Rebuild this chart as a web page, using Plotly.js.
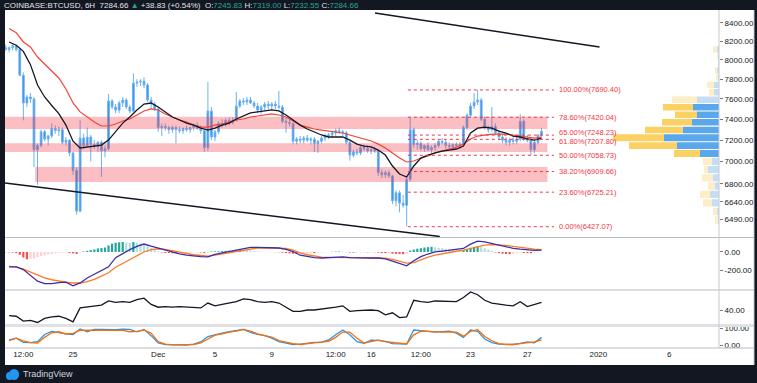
<!DOCTYPE html>
<html><head><meta charset="utf-8">
<script src="https://cdn.plot.ly/plotly-3.0.1.min.js"></script>
<style>html,body{margin:0;padding:0;background:#131722;overflow:hidden}#chart{width:757px;height:383px}</style>
</head><body><div id="chart"></div>
<script>
// ---------- DATA ----------
const symbol = 'COINBASE:BTCUSD, 6H';
const candleStartUTC = Date.UTC(2019, 10, 20, 6);   // first 6H candle
const candleStepHours = 6;
const open = [8130,8110,8130,8150,8110,7840,7560,7620,7600,7110, 7150,7280,7210,7240,7310,7290,7300,7180,7200,7080,
 6920,6560,7220,7150,7230,7160,7140,7180,7100,7120, 7580,7520,7490,7560,7590,7520,7480,7760,7770,7780,
 7740,7590,7550,7500,7320,7330,7320,7300,7320,7300, 7290,7310,7300,7320,7340,7310,7290,7130,7480,7230,
 7280,7360,7350,7390,7370,7390,7530,7580,7570,7590, 7560,7530,7490,7520,7550,7530,7550,7530,7520,7380,
 7370,7360,7190,7210,7200,7220,7200,7210,7170,7190, 7220,7240,7250,7270,7290,7280,7270,7180,7060,7090,
 7080,7130,7120,7100,7110,7100,6900,6880,6900,6870, 6650,6720,6630,6610,6840,7300,7160,7170,7120,7150,
 7110,7130,7150,7190,7180,7150,7140,7160,7150,7160, 7320,7440,7530,7570,7590,7400,7320,7300,7330,7270,
 7230,7200,7180,7200,7190,7210,7380,7220,7200,7110, 7180,7245.83];
const high = [8160,8140,8170,8160,8130,7870,7640,7660,7620,7170, 7300,7300,7250,7360,7340,7330,7320,7230,7210,7090,
 6950,7390,7260,7320,7250,7200,7190,7200,7150,7650, 7600,7550,7580,7620,7610,7540,7860,7800,7800,7820,
 7760,7620,7570,7520,7360,7360,7340,7340,7340,7330, 7320,7340,7330,7360,7370,7340,7300,7770,7520,7300,
 7380,7400,7410,7420,7420,7670,7600,7610,7620,7620, 7580,7560,7540,7570,7580,7570,7580,7680,7540,7420,
 7400,7370,7230,7240,7240,7250,7230,7230,7200,7240, 7260,7270,7290,7310,7320,7300,7290,7190,7110,7120,
 7150,7160,7150,7140,7140,7110,6930,6920,6920,6880, 6740,6740,6700,6860,7420,7320,7200,7190,7160,7180,
 7150,7170,7200,7220,7200,7180,7170,7180,7180,7340, 7460,7560,7660,7690,7610,7430,7340,7520,7360,7300,
 7260,7230,7220,7230,7230,7450,7400,7250,7220,7200, 7260,7319.00];
const low = [8100,8080,8100,8090,7830,7390,7520,7560,6950,6790, 7130,7190,7150,7220,7260,7240,7160,7150,7050,6880,
 6530,6550,7120,7140,7000,7120,7090,6860,7040,7100, 7500,7460,7460,7520,7500,7460,7470,7720,7730,7710,
 7570,7500,7480,7280,7240,7290,7260,7270,7170,7270, 7260,7280,7270,7290,7300,7260,7090,7100,7200,7190,
 7260,7320,7330,7340,7350,7380,7510,7540,7540,7550, 7510,7460,7450,7480,7500,7490,7500,7500,7360,7270,
 7330,7160,7160,7170,7170,7180,7160,7090,7080,7170, 7190,7210,7220,7240,7260,7240,7160,7010,7040,7060,
 7060,7100,7080,7070,7080,6870,6850,6850,6850,6620, 6600,6550,6590,6430,6820,7130,7110,7100,7090,7100,
 7080,7100,7130,7160,7120,7120,7110,7130,7120,7150, 7300,7420,7500,7540,7380,7300,7270,7280,7250,7200,
 7170,7150,7150,7160,7160,7190,7190,7180,7060,7080, 7160,7232.55];
const close = [8110,8130,8150,8110,7840,7560,7620,7600,7110,7150, 7280,7210,7240,7310,7290,7300,7180,7200,7080,6920,
 6560,7220,7150,7230,7160,7140,7180,7100,7120,7580, 7520,7490,7560,7590,7520,7480,7760,7770,7780,7740,
 7590,7550,7500,7320,7330,7320,7300,7320,7300,7290, 7310,7300,7320,7340,7310,7290,7130,7480,7230,7280,
 7360,7350,7390,7370,7390,7530,7580,7570,7590,7560, 7530,7490,7520,7550,7530,7550,7530,7520,7380,7370,
 7360,7190,7210,7200,7220,7200,7210,7170,7190,7220, 7240,7250,7270,7290,7280,7270,7180,7060,7090,7080,
 7130,7120,7100,7110,7100,6900,6880,6900,6870,6650, 6720,6630,6610,6840,7300,7160,7170,7120,7150,7110,
 7130,7150,7190,7180,7150,7140,7160,7150,7160,7320, 7440,7530,7570,7590,7400,7320,7300,7330,7270,7230,
 7200,7180,7200,7190,7210,7380,7220,7200,7110,7180, 7245.83,7284.66];

// indicator readings, sampled every 12h
const indStartUTC = Date.UTC(2019, 10, 20, 12);
const indStepHours = 12;
const emaFast = [8190,8155,8090,7950,7740,7620,7535,7455,7344,7190, 7127,7136,7145,7154,7201,7287,7363,7422,7491,7550,
 7560,7520,7472,7422,7393,7363,7344,7315,7296,7315, 7344,7363,7403,7432,7462,7472,7482,7491,7482,7442,
 7393,7344,7306,7278,7249,7230,7230,7230,7201,7163, 7145,7136,7107,7061,6960,6887,6860,6960,7033,7061,
 7080,7098,7107,7117,7145,7268,7315,7325,7315,7287, 7268,7239,7230,7211,7201,7220];
const emaSlow = [8336,8290,8190,8136,8030,7958,7884,7812,7700,7560, 7472,7422,7373,7335,7335,7354,7383,7403,7442,7481,
 7501,7491,7452,7422,7393,7373,7344,7325,7325,7344, 7354,7373,7393,7403,7422,7432,7442,7452,7442,7422,
 7383,7344,7325,7306,7296,7287,7278,7268,7249,7230, 7211,7192,7163,7127,7080,7033,6997,7006,7033,7052,
 7080,7098,7117,7136,7163,7211,7239,7249,7258,7258, 7258,7249,7239,7230,7220,7230];
const macdLine = [-162,-162,-190,-250,-315,-342,-342,-332,-325,-365, -335,-281,-242,-205,-160,-62,-15,25,60,86,
 62,40,16,-5,-20,-33,-44,-50,-52,-25, -10,5,22,38,50,50,45,43,43,28,
 5,-35,-50,-60,-65,-62,-57,-54,-60,-64, -65,-65,-65,-75,-98,-125,-150,-95,-50,-22,
 0,10,18,25,38,85,118,108,90,70, 55,40,30,22,18,20];
const signalLine = [-155,-160,-185,-215,-250,-280,-300,-315,-325,-335, -335,-320,-295,-260,-225,-165,-125,-80,-40,0,
 25,35,28,12,-2,-18,-30,-38,-45,-35, -22,-8,5,20,35,43,44,43,43,38,
 20,-10,-30,-45,-55,-58,-58,-56,-56,-60, -62,-64,-65,-66,-80,-100,-120,-115,-85,-55,
 -35,-18,-5,8,20,40,62,74,80,78, 72,60,48,38,30,25];
const rsi = [32,31,24,25,22,28,30,31,28,23, 43,44,45,47,53,51,52,51,55,57,
 48,44,45,44,45,44,44,43,50,46, 48,50,52,56,55,52,51,52,50,44,
 38,38,40,40,41,42,44,46,38,39, 40,40,39,33,36,29,30,54,52,51,
 53,53,52,52,58,66,62,54,50,48, 47,46,52,45,48,51];
const stochK = [30,40,15,14,20,62,80,72,65,62, 95,78,92,92,90,90,93,92,78,92,
 55,12,2,0,0,0,5,18,50,62, 70,78,85,92,75,62,55,40,20,12,
 3,5,12,15,17,30,60,88,60,20, 10,29,27,22,8,6,6,88,82,80,
 76,78,82,70,45,88,80,35,14,5, 2,3,10,18,13,45];
const stochD = [25,40,25,14,12,45,72,78,65,68, 88,88,86,88,88,88,86,78,80,88,
 70,20,5,1,1,1,3,12,35,58, 65,76,82,92,82,65,55,47,26,15,
 8,3,6,12,17,22,45,76,76,40, 12,22,29,20,15,8,6,60,82,80,
 76,76,77,76,52,80,90,50,25,8, 3,3,8,15,18,30];
// MACD histogram, one per candle
const macdHist = [-3,-4,-6,-12,-30,-60,-80,-75,-70,-55, -45,-35,-25,-22,-15,-10,-8,-6,-10,-15,
 -20,-5,5,12,20,28,38,42,48,70, 90,100,105,108,104,100,108,102,95,85,
 65,45,25,8,-5,-10,-12,-14,-14,-12, -10,-8,-6,-5,-4,-5,-10,-6,5,6,
 8,10,12,14,15,22,24,22,18,14, 10,6,4,3,2,1,-2,-3,-8,-12,
 -14,-20,-22,-20,-18,-15,-12,-12,-10,-6, -3,-1,2,4,5,3,-2,-6,-7,-6,
 -5,-4,-4,-3,-3,-8,-12,-12,-11,-18, -20,-22,-24,-18,15,25,35,40,48,52,
 55,50,45,40,35,28,22,18,14,20, 32,45,55,60,52,40,25,12,-5,-12,
 -18,-22,-24,-20,-16,-8,-10,-12,-14,-10, -6,-2];

// Fibonacci retracement
const fibRatios = [1, 0.786, 0.65, 0.618, 0.5, 0.382, 0.236, 0];
const fibLevels = [7690.40, 7420.04, 7248.23, 7207.80, 7058.73, 6909.66, 6725.21, 6427.07];
const fibStart = '2019-12-18 14:00', fibEnd = '2019-12-28 21:00', fibLabelAt = '2019-12-29 02:00';

// support/resistance zones
const zoneLow   = [7306, 7088, 6815];
const zoneHigh  = [7424, 7172, 6950];
const zoneStart = ['2019-11-18 00:00', '2019-11-18 00:00', '2019-11-22 08:00'];
const zoneEnd   = ['2019-12-28 10:00', '2019-12-28 10:00', '2019-12-28 10:00'];

// trend lines
const trendUpperX = ['2019-12-16 06:30', '2020-01-01 02:00'];
const trendUpperY = [8507, 8136];
const trendLowerX = ['2019-11-20 05:00', '2019-12-20 20:00'];
const trendLowerY = [6806, 6345];

// visible-range volume profile
const vpRowPrice = [6483,6557,6631,6705,6779,6853,6927,7001,7075,7149,7223,7297,7371,7445,7519,7593,7667,7741,7815,7889,7963,8037,8111];
const vpUp   = [1,2,7,9,4,6,11,7,19,42,55,36,27,22,26,22,5,5,1,2,1,1,2];
const vpDown = [3,4,9,10,7,11,4,9,26,48,51,38,30,22,30,25,5,7,2,2,0,1,4];
const vpValueArea = [0,0,0,0,0,0,0,0,1,1,1,1,1,1,1,0,0,0,0,0,0,0,0];
const vpHalfRow = 32;

// axis ticks
const priceTicks = [6490, 6640, 6800, 7000, 7200, 7400, 7600, 7800, 8000, 8200, 8400];
const timeTickVals = ['2019-11-21 12:00','2019-11-25','2019-12-01','2019-12-05','2019-12-09','2019-12-13 12:00','2019-12-16','2019-12-19 12:00','2019-12-23','2019-12-27','2020-01-01','2020-01-06'];
const timeTickText = ['12:00','25','Dec','5','9','12:00','16','12:00','23','27','2020','6'];

// ---------- BUILD ----------
function fmt(ms){ return new Date(ms).toISOString().slice(0,16).replace('T',' '); }
function makeTimes(start, stepH, n){ const a=[]; for(let i=0;i<n;i++) a.push(fmt(start + i*stepH*3600000)); return a; }
const tC = makeTimes(candleStartUTC, candleStepHours, close.length);
const tI = makeTimes(indStartUTC, indStepHours, rsi.length);

const FONT = 'Liberation Sans, Arial, sans-serif';
const px2x = p => (p - 5) / 714, px2y = p => (348 - p) / 338;

const traces = [];
traces.push({type:'candlestick', x:tC, open, high, low, close, xaxis:'x', yaxis:'y',
  increasing:{line:{color:'#6cb2f2', width:1}, fillcolor:'#2f8fe8'},
  decreasing:{line:{color:'#6cb2f2', width:1}, fillcolor:'#2f8fe8'}, whiskerwidth:0, hoverinfo:'skip'});

// zones
{ const zx=[], zy=[];
  zoneLow.forEach((lo,i)=>{ zx.push(zoneStart[i],zoneEnd[i],zoneEnd[i],zoneStart[i],zoneStart[i],null);
    zy.push(lo,lo,zoneHigh[i],zoneHigh[i],lo,null); });
  traces.push({type:'scatter', mode:'lines', x:zx, y:zy, fill:'toself', fillcolor:'rgba(242,54,69,0.32)',
    line:{width:0}, xaxis:'x', yaxis:'y', hoverinfo:'skip'}); }

traces.push({type:'scatter', mode:'lines', x:tI, y:emaSlow, line:{color:'#f44336', width:1.2}, xaxis:'x', yaxis:'y'});
traces.push({type:'scatter', mode:'lines', x:tI, y:emaFast, line:{color:'#131722', width:1.3}, xaxis:'x', yaxis:'y'});
traces.push({type:'scatter', mode:'lines', x:trendUpperX, y:trendUpperY, line:{color:'#131722', width:1.5}, xaxis:'x', yaxis:'y'});
traces.push({type:'scatter', mode:'lines', x:trendLowerX, y:trendLowerY, line:{color:'#131722', width:1.5}, xaxis:'x', yaxis:'y'});

// fib lines
{ const fx=[], fy=[];
  fibLevels.forEach(l=>{ fx.push(fibStart, fibEnd, null); fy.push(l, l, null); });
  traces.push({type:'scatter', mode:'lines', x:fx, y:fy, line:{color:'#f23645', width:1, dash:'dot'}, xaxis:'x', yaxis:'y'}); }
// fib labels (annotation y on a log axis is given in log10 units, as Plotly requires)
const fibShift = {0.65: 2.5, 0.618: -2.5};
const fibAnnotations = fibLevels.map((l,i)=>({xref:'x', yref:'y', x:fibLabelAt, y:Math.log10(l), xanchor:'left', yanchor:'middle',
  showarrow:false, yshift:fibShift[fibRatios[i]]||0, text:(fibRatios[i]*100).toFixed(2)+'%('+l.toFixed(2)+')',
  font:{family:FONT, size:7.5, color:'#f23645'}}));

// volume profile (bars drawn from the right edge)
{ const groups = {
    upVA:{x:[],y:[],c:'#5aa7ec'}, dnVA:{x:[],y:[],c:'#fbd164'},
    upO:{x:[],y:[],c:'#c5def6'}, dnO:{x:[],y:[],c:'#fdeec7'} };
  vpRowPrice.forEach((p,i)=>{
    const lo=p-vpHalfRow, hi=p+vpHalfRow, va=vpValueArea[i];
    const segs=[[0,vpUp[i], va?'upVA':'upO'], [vpUp[i], vpUp[i]+vpDown[i], va?'dnVA':'dnO']];
    segs.forEach(([a,b,g])=>{ if(b<=a) return; const G=groups[g];
      G.x.push(a,b,b,a,a,null); G.y.push(lo,lo,hi,hi,lo,null); });
  });
  Object.values(groups).forEach(G=>traces.push({type:'scatter', mode:'lines', x:G.x, y:G.y, fill:'toself',
    fillcolor:G.c, line:{width:0}, xaxis:'x2', yaxis:'y', hoverinfo:'skip'})); }

// MACD
{ const cols = macdHist.map((h,i)=>{ const prev = i>0?macdHist[i-1]:h;
    if(h>=0) return h>=prev ? '#26a69a' : '#b2dfdb';
    return h<=prev ? '#ef5350' : '#ffcdd2'; });
  traces.push({type:'bar', x:tC, y:macdHist, marker:{color:cols, line:{width:0}}, width:6*3600000*0.62, xaxis:'x', yaxis:'y2'}); }
traces.push({type:'scatter', mode:'lines', x:tI, y:signalLine, line:{color:'#ff7a28', width:1.3}, xaxis:'x', yaxis:'y2'});
traces.push({type:'scatter', mode:'lines', x:tI, y:macdLine, line:{color:'#3b2ea6', width:1.3}, xaxis:'x', yaxis:'y2'});
// RSI
traces.push({type:'scatter', mode:'lines', x:tI, y:rsi, line:{color:'#131722', width:1.3}, xaxis:'x', yaxis:'y3'});
// Stoch
traces.push({type:'scatter', mode:'lines', x:tI, y:stochK, line:{color:'#2196f3', width:1.3}, xaxis:'x', yaxis:'y4'});
traces.push({type:'scatter', mode:'lines', x:tI, y:stochD, line:{color:'#ff6d00', width:1.3}, xaxis:'x', yaxis:'y4'});

const yCommon = {side:'right', anchor:'x', showgrid:false, zeroline:false, showline:false, ticks:'outside', ticklen:3,
  tickcolor:'#787b86', tickfont:{family:FONT, size:8, color:'#131722'}, fixedrange:true};

const n = close.length;
const chg = close[n-1]-close[n-2];
const teal = s=>'<span style="color:#26a69a">'+s+'</span>';
const header = symbol+'  '+close[n-1].toFixed(2)+' '+teal('▲')+' +'+chg.toFixed(2)+' (+'+(chg/close[n-2]*100).toFixed(2)+'%)  O:'+teal(open[n-1].toFixed(2))+
  ' H:'+teal(high[n-1].toFixed(2))+' L:'+teal(low[n-1].toFixed(2))+' C:'+teal(close[n-1].toFixed(2));

const layout = {
  width:757, height:383, margin:{l:5, r:38, t:10, b:35},
  paper_bgcolor:'#131722', plot_bgcolor:'rgba(0,0,0,0)', showlegend:false, bargap:0.35,
  font:{family:FONT},
  xaxis:{type:'date', anchor:'y4', range:['2019-11-20 05:00','2020-01-09 12:00'], showgrid:false, zeroline:false,
    showline:false, ticks:'', tickvals:timeTickVals, ticktext:timeTickText,
    tickfont:{family:FONT, size:8, color:'#131722'}, rangeslider:{visible:false}, fixedrange:true},
  xaxis2:{overlaying:'x', anchor:'y', range:[714,0], visible:false, fixedrange:true},
  yaxis:Object.assign({}, yCommon, {domain:[px2y(237),1], type:'log', range:[Math.log10(6341), Math.log10(8541)],
    tickvals:priceTicks, ticktext:priceTicks.map(v=>v.toFixed(2))}),
  yaxis2:Object.assign({}, yCommon, {domain:[px2y(289),px2y(238)], range:[-400,151], tickvals:[0,-200], ticktext:['0.00','-200.00']}),
  yaxis3:Object.assign({}, yCommon, {domain:[px2y(324),px2y(291)], range:[19.8,67.4], tickvals:[40], ticktext:['40.00']}),
  yaxis4:Object.assign({}, yCommon, {domain:[0,px2y(327)], range:[-17.6,106], tickvals:[0,100], ticktext:['0.00','100.00']}),
  shapes:[
    {type:'rect', xref:'paper', yref:'paper', x0:0, x1:px2x(754), y0:px2y(365), y1:1, fillcolor:'#ffffff', line:{width:0}, layer:'below'},
    {type:'line', xref:'paper', yref:'paper', x0:0, x1:px2x(754), y0:px2y(237.5), y1:px2y(237.5), line:{color:'#b8bbc4', width:1}},
    {type:'line', xref:'paper', yref:'paper', x0:0, x1:px2x(754), y0:px2y(290), y1:px2y(290), line:{color:'#b8bbc4', width:1}},
    {type:'line', xref:'paper', yref:'paper', x0:0, x1:px2x(754), y0:px2y(325.5), y1:px2y(325.5), line:{color:'#dfe1e6', width:3}},
    {type:'line', xref:'paper', yref:'paper', x0:0, x1:px2x(754), y0:0, y1:0, line:{color:'#b8bbc4', width:1}},
    {type:'line', xref:'paper', yref:'paper', x0:1, x1:1, y0:0, y1:1, line:{color:'#c7c9d0', width:1}},
    {type:'line', xref:'paper', yref:'paper', x0:px2x(754), x1:px2x(754), y0:px2y(365), y1:1, line:{color:'#c7c9d0', width:1}},
    {type:'circle', xref:'paper', yref:'paper', x0:px2x(6), x1:px2x(13), y0:px2y(380), y1:px2y(372), fillcolor:'#2196f3', line:{width:0}},
    {type:'circle', xref:'paper', yref:'paper', x0:px2x(9), x1:px2x(19), y0:px2y(380), y1:px2y(369), fillcolor:'#2196f3', line:{width:0}}
  ],
  annotations:[
    {xref:'paper', yref:'paper', x:px2x(2), y:px2y(5), xanchor:'left', yanchor:'middle', showarrow:false,
     text:header, font:{family:FONT, size:8, color:'#e0e3eb'}},
    {xref:'paper', yref:'paper', x:px2x(21), y:px2y(374), xanchor:'left', yanchor:'middle', showarrow:false,
     text:'TradingView', font:{family:FONT, size:9, color:'#d1d4dc'}}
  ].concat(fibAnnotations)
};
Plotly.newPlot('chart', traces, layout, {staticPlot:true, displayModeBar:false});
</script></body></html>
